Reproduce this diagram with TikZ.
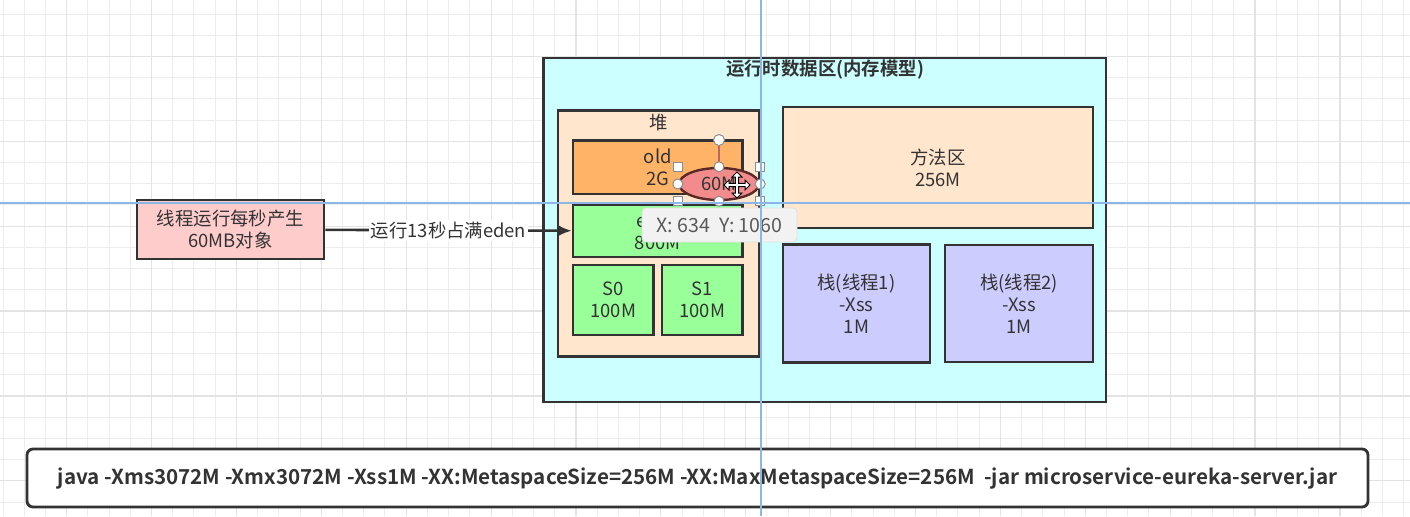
\documentclass[tikz,border=0pt]{standalone}
\usepackage{fontspec}
\setmainfont{Noto Sans CJK SC}[BoldFont={* Bold}]
\usepackage{tikz}
\usepackage{xcolor}
\usetikzlibrary{shapes.geometric,arrows.meta,positioning,calc}

\definecolor{ink}{HTML}{333333}
\definecolor{gridlight}{HTML}{EDEDED}
\definecolor{griddark}{HTML}{E3E3E3}
\definecolor{guide}{HTML}{8CB6E6}
\definecolor{cyanbg}{HTML}{CCFFFF}
\definecolor{peach}{HTML}{FFE6CC}
\definecolor{oldorange}{HTML}{FFB366}
\definecolor{edengreen}{HTML}{99FF99}
\definecolor{stackblue}{HTML}{CCCCFF}
\definecolor{pinkbox}{HTML}{FFCCCC}
\definecolor{coral}{HTML}{F28C8C}
\definecolor{tipgray}{HTML}{F2F2F2}

\begin{document}
\begin{tikzpicture}[
    x=0.5pt, y=-0.5pt,
    box/.style={draw=ink, line width=1.4pt, align=center, text=ink, inner sep=0pt,
        font=\fontsize{9.2}{11}\selectfont},
    flow/.style={-{Latex[length=7pt,width=6pt]}, draw=ink, line width=1.3pt},
    hsq/.style={draw=black!45, fill=white, line width=0.5pt, minimum size=4.5pt, inner sep=0pt},
    hcirc/.style={circle, draw=black!45, fill=white, line width=0.5pt, minimum size=5pt, inner sep=0pt},
    guideline/.style={draw=guide, line width=0.6pt}
]
    \useasboundingbox (0,0) rectangle (1410,516);

    % Grid
    \fill[white] (0,0) rectangle (1410,516);
    \foreach \i in {0,...,66} \draw[gridlight, line width=0.5pt] (3+21.22*\i,0) -- (3+21.22*\i,516);
    \foreach \i in {0,...,24} \draw[gridlight, line width=0.5pt] (0,14+21.22*\i) -- (1410,14+21.22*\i);
    \foreach \i in {0,...,16} \draw[griddark, line width=0.6pt] (66.7+84.88*\i,0) -- (66.7+84.88*\i,516);
    \foreach \i in {0,...,6} \draw[griddark, line width=0.6pt] (0,56.4+84.88*\i) -- (1410,56.4+84.88*\i);

    % Runtime data area
    \node[box, fill=cyanbg, minimum width=281.25pt, minimum height=172pt] (runtime) at (824.75,230) {};
    \node[text=ink, font=\fontsize{9.2}{11}\selectfont\bfseries] (title) at (825,70) {运行时数据区(内存模型)};

    % Heap
    \node[box, fill=peach, minimum width=100.5pt, minimum height=123pt] (heap) at (658.5,233.5) {};
    \node[text=ink, font=\fontsize{9.2}{11}\selectfont] (heaplbl) at (659,123) {堆};
    \node[box, fill=oldorange, minimum width=84.75pt, minimum height=26.75pt] (old) at (657.75,167.25) {old\\2G};
    \node[box, fill=edengreen, minimum width=84.75pt, minimum height=26pt] (eden) at (657.75,231) {eden\\800M};
    \node[box, fill=edengreen, minimum width=40.25pt, minimum height=35pt] (s0) at (613.25,300) {S0\\100M};
    \node[box, fill=edengreen, minimum width=40.25pt, minimum height=35pt] (s1) at (702.25,300) {S1\\100M};

    % Method area and stacks
    \node[box, fill=peach, minimum width=155pt, minimum height=60.5pt] (method) at (938,167.5) {方法区\\256M};
    \node[box, fill=stackblue, minimum width=73.5pt, minimum height=59pt] (stack1) at (856.5,303.5) {栈(线程1)\\-Xss\\1M};
    \node[box, fill=stackblue, minimum width=74pt, minimum height=58.5pt] (stack2) at (1019,303.5) {栈(线程2)\\-Xss\\1M};

    % Thread producing objects
    \node[box, fill=pinkbox, minimum width=93.5pt, minimum height=29.5pt] (thread) at (230.5,229.5) {线程运行每秒产生\\60MB对象};
    \draw[flow] (thread) -- node[fill=white, text=ink, inner sep=1pt, font=\fontsize{9.2}{11}\selectfont] (fill) {运行13秒占满eden} (eden);

    % Selected object with handles
    \node[ellipse, draw=ink!80!red, fill=coral, line width=1.2pt, minimum width=40pt, minimum height=16pt,
        inner sep=0pt, text=ink, font=\fontsize{9.2}{11}\selectfont] (blob) at (719,184) {60M};
    \node[hcirc, minimum size=5.5pt] (rot) at (719,140) {};
    \draw[draw=black!45!red!60, line width=0.6pt] (rot) -- (blob.north);
    \foreach \a in {north,south,east,west} \node[hcirc] (hc-\a) at (blob.\a) {};
    \node[hsq] (hs-nw) at (blob.north -| blob.west) {};
    \node[hsq] (hs-ne) at (blob.north -| blob.east) {};
    \node[hsq] (hs-sw) at (blob.south -| blob.west) {};
    \node[hsq] (hs-se) at (blob.south -| blob.east) {};
    \fill[white, draw=black, line width=0.5pt, shift={(737,185)}]
        (0,-13) -- (5,-8) -- (1.6,-8) -- (1.6,-1.6) -- (8,-1.6) -- (8,-5) -- (13,0) -- (8,5) -- (8,1.6)
        -- (1.6,1.6) -- (1.6,8) -- (5,8) -- (0,13) -- (-5,8) -- (-1.6,8) -- (-1.6,1.6) -- (-8,1.6)
        -- (-8,5) -- (-13,0) -- (-8,-5) -- (-8,-1.6) -- (-1.6,-1.6) -- (-1.6,-8) -- (-5,-8) -- cycle;

    % Position tooltip
    \node[draw=black!12, fill=tipgray, rounded corners=2pt, minimum width=77.5pt, minimum height=17pt,
        text=black!65, font=\fontsize{9.8}{11}\selectfont] (tip) at (719.5,225) {X: 634\ \ Y: 1060};

    % Command line
    \node[box, fill=white, rounded corners=3pt, minimum width=670.5pt, minimum height=29pt,
        font=\fontsize{10.3}{12}\selectfont\bfseries] (cmd) at (697.5,478)
        {java -Xms3072M -Xmx3072M -Xss1M -XX:MetaspaceSize=256M -XX:MaxMetaspaceSize=256M\ \ -jar microservice-eureka-server.jar};

    % Guides
    \draw[guideline] (761,0) -- (761,516);
    \draw[guideline] (0,203) -- (1410,203);
\end{tikzpicture}
\end{document}
